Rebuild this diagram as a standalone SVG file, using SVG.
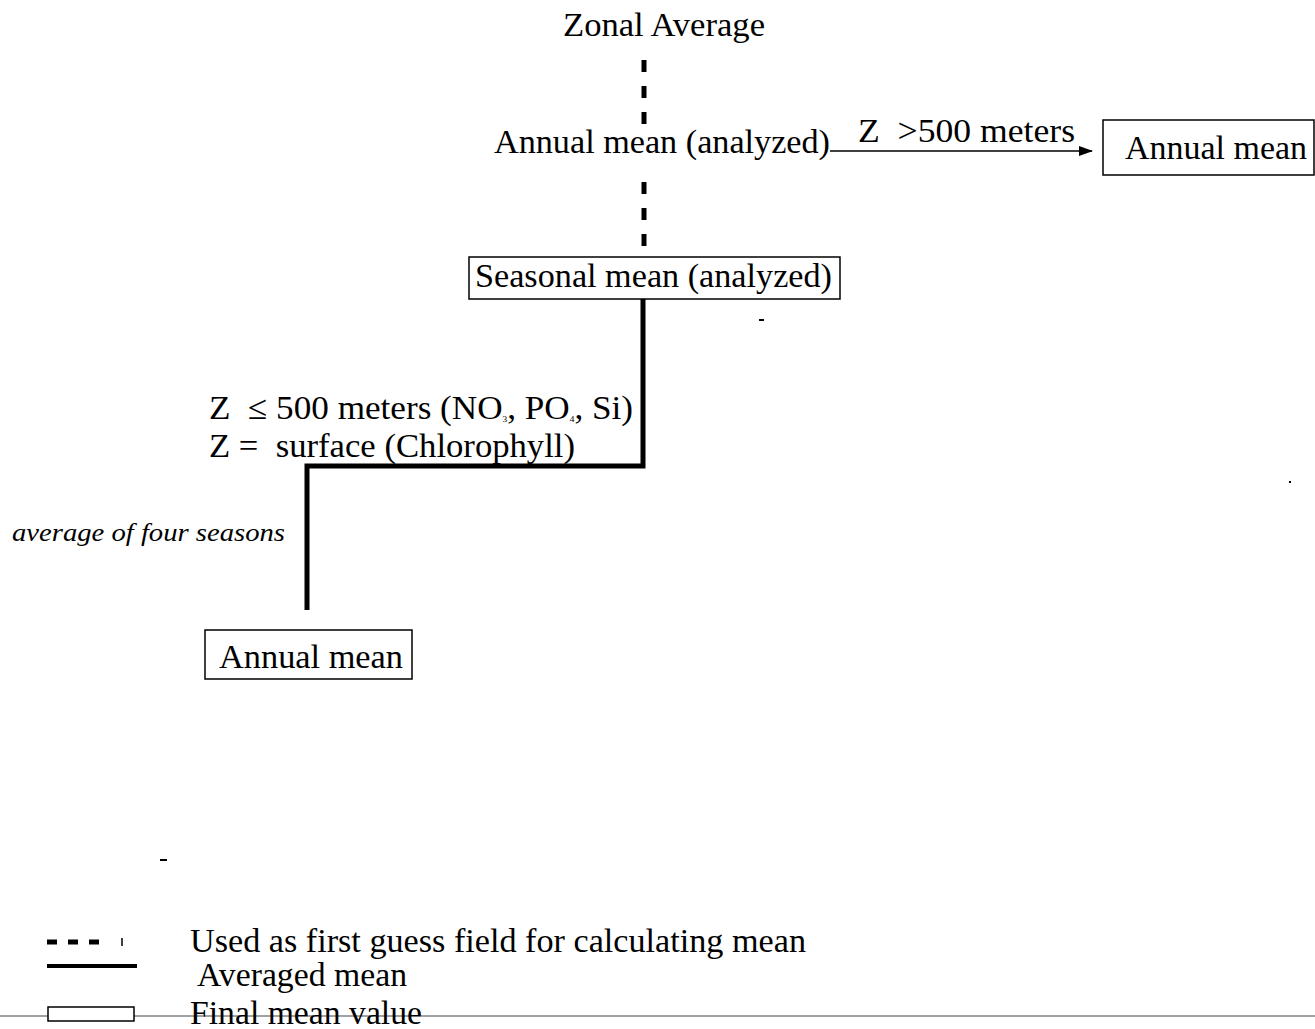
<svg xmlns="http://www.w3.org/2000/svg" width="1315" height="1029" viewBox="0 0 1315 1029">
<defs>
<style>
text{font-family:"Liberation Serif","Times New Roman",serif;font-size:34px;fill:#000}
.it{font-style:italic;font-size:26px}
.box{fill:#fff;stroke:#000;stroke-width:1.5}
.dash{stroke:#000;stroke-width:5;stroke-dasharray:12 14;fill:none}
.solid{stroke:#000;stroke-width:5;fill:none}
.sub{font-size:9px}
</style>
<marker id="arr" markerWidth="14" markerHeight="10" refX="13" refY="5" orient="auto" markerUnits="userSpaceOnUse">
<path d="M0,0 L14,5 L0,10 Z" fill="#000"/>
</marker>
</defs>
<rect width="1315" height="1029" fill="#fff"/>

<g id="connectors">
<line class="dash" x1="644" y1="60" x2="644" y2="124"/>
<line class="dash" x1="644" y1="182" x2="644" y2="246"/>
<polyline class="solid" points="643,299 643,466 307,466 307,610"/>
<line x1="830" y1="151" x2="1092" y2="151" stroke="#000" stroke-width="1.5" marker-end="url(#arr)"/>
<text x="858" y="142" textLength="217" lengthAdjust="spacingAndGlyphs" xml:space="preserve">Z  &gt;500 meters</text>
</g>

<g id="zonal-average">
<text x="563" y="36" textLength="202" lengthAdjust="spacingAndGlyphs">Zonal Average</text>
</g>

<g id="annual-analyzed">
<text x="494" y="153" textLength="336" lengthAdjust="spacingAndGlyphs">Annual mean (analyzed)</text>
</g>

<g id="annual-mean-right">
<rect class="box" x="1103" y="120" width="211" height="55"/>
<text x="1125" y="159" textLength="182" lengthAdjust="spacingAndGlyphs">Annual mean</text>
</g>

<g id="seasonal-analyzed">
<rect class="box" x="469" y="257" width="371" height="42"/>
<text x="475" y="287" textLength="357" lengthAdjust="spacingAndGlyphs">Seasonal mean (analyzed)</text>
</g>

<g id="condition-labels">
<text x="209" y="419" textLength="424" lengthAdjust="spacingAndGlyphs" xml:space="preserve">Z  ≤ 500 meters (NO<tspan class="sub" dy="3">3</tspan><tspan dy="-3">, PO</tspan><tspan class="sub" dy="3">4</tspan><tspan dy="-3">, Si)</tspan></text>
<text x="209" y="457" textLength="366" lengthAdjust="spacingAndGlyphs" xml:space="preserve">Z =  surface (Chlorophyll)</text>
</g>

<g id="average-label">
<text class="it" x="12" y="541" textLength="273" lengthAdjust="spacingAndGlyphs">average of four seasons</text>
</g>

<g id="annual-mean-bottom">
<rect class="box" x="205" y="630" width="207" height="49"/>
<text x="219" y="668" textLength="184" lengthAdjust="spacingAndGlyphs">Annual mean</text>
</g>

<g id="marks">
<rect x="759" y="319" width="5" height="2" fill="#000"/>
<rect x="160" y="859" width="7" height="2" fill="#000"/>
<rect x="1289" y="481" width="2" height="2" fill="#000"/>
</g>

<g id="legend">
<line x1="0" y1="1016" x2="1315" y2="1016" stroke="#444" stroke-width="1"/>
<line x1="47" y1="942" x2="110" y2="942" stroke="#000" stroke-width="5" stroke-dasharray="10 11"/>
<line x1="122" y1="938" x2="122" y2="946" stroke="#000" stroke-width="1.5"/>
<line x1="47" y1="966" x2="137" y2="966" stroke="#000" stroke-width="4"/>
<rect class="box" x="48" y="1007" width="86" height="14"/>
<text x="190" y="952" textLength="616" lengthAdjust="spacingAndGlyphs">Used as first guess field for calculating mean</text>
<text x="197" y="986" textLength="210" lengthAdjust="spacingAndGlyphs">Averaged mean</text>
<text x="190" y="1024" textLength="232" lengthAdjust="spacingAndGlyphs">Final mean value</text>
</g>
</svg>
